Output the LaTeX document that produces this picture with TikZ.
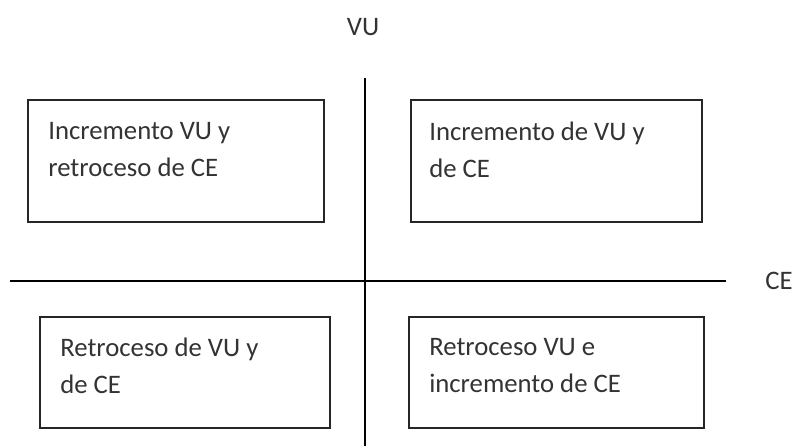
\documentclass[tikz,border=0pt]{standalone}
\usepackage{fontspec}
\setmainfont{Carlito}
\usetikzlibrary{positioning}

\tikzset{
  quadbox/.style={draw=black!85, line width=1.4pt, inner sep=0pt},
  quadtext/.style={anchor=north west, inner sep=0pt, align=left, text=black!80,
    font=\fontsize{19pt}{26.3pt}\selectfont},
  axislabel/.style={inner sep=0pt, text=black!80, font=\fontsize{19pt}{26.3pt}\selectfont},
  axisline/.style={draw=black, line width=1pt}
}

\begin{document}
\begin{tikzpicture}[x=0.025cm,y=-0.025cm]
\useasboundingbox (0,0) rectangle (798,446);

% axes
\coordinate (vtop) at (365,78);
\coordinate (vbot) at (365,446);
\coordinate (hleft) at (10,281);
\coordinate (hright) at (726,281);
\draw[axisline] (vtop) -- (vbot);
\draw[axisline] (hleft) -- (hright);
\node[axislabel] (vu) at (363,27) {VU};
\node[axislabel] (ce) at (779,281) {CE};

% upper left
\node[quadbox, minimum width=296*0.025cm, minimum height=122*0.025cm, anchor=north west] (ul) at (27,99) {};
\node[quadtext] (ultext) at ([shift={(21,23)}]ul.north west) {Incremento VU y\\retroceso de CE};

% upper right
\node[quadbox, minimum width=291*0.025cm, minimum height=122*0.025cm, anchor=north west] (ur) at (410,99) {};
\node[quadtext] (urtext) at ([shift={(19,23)}]ur.north west) {Incremento de VU y\\de CE};

% lower left
\node[quadbox, minimum width=290*0.025cm, minimum height=111*0.025cm, anchor=north west] (ll) at (39,316) {};
\node[quadtext] (lltext) at ([shift={(21,22)}]ll.north west) {Retroceso de VU y\\de CE};

% lower right
\node[quadbox, minimum width=295*0.025cm, minimum height=111*0.025cm, anchor=north west] (lr) at (408,316) {};
\node[quadtext] (lrtext) at ([shift={(21,22)}]lr.north west) {Retroceso VU e\\incremento de CE};

\end{tikzpicture}
\end{document}
